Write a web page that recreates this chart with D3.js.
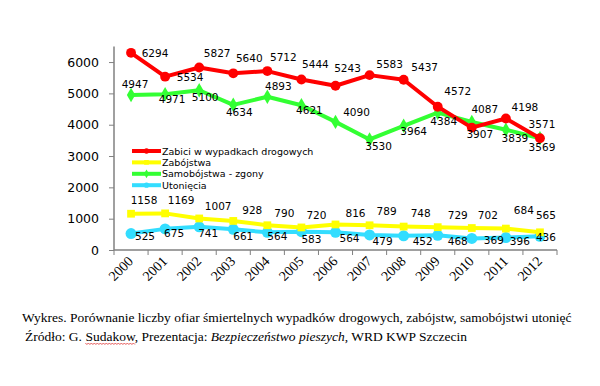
<!DOCTYPE html>
<html>
<head>
<meta charset="utf-8">
<script src="https://cdn.jsdelivr.net/npm/d3@7"></script>
<style>
  body { margin: 0; background: #fff; }
  svg { display: block; }
</style>
</head>
<body>
<svg id="chart" width="600" height="386"></svg>
<script>
"use strict";

// ---- data
const years = ["2000","2001","2002","2003","2004","2005","2006","2007","2008","2009","2010","2011","2012"];
const roadDeaths = [6294,5534,5827,5640,5712,5444,5243,5583,5437,4572,3907,4198,3571];
const homicides  = [1158,1169,1007,928,790,720,816,789,748,729,702,684,565];
const suicides   = [4947,4971,5100,4634,4893,4621,4090,3530,3964,4384,4087,3839,3569];
const drownings  = [525,675,741,661,564,583,564,479,452,468,369,396,436];
const yTicks = [0,1000,2000,3000,4000,5000,6000];
const seriesNames = ["Zabici w wypadkach drogowych","Zabójstwa","Samobójstwa - zgony","Utonięcia"];

// label offsets (dx, dy from point) – layout only
const labelOff = {
  road: [[24,4],[25,4],[18,-10],[16,-11],[16,-10],[14,-11],[12,-14],[20,-7],[21,-9],[20,-12],[8,10],[19,-8],[2,-10]],
  hom:  [[13,-10],[16,-9],[19,-8],[19,-7],[17,-8],[15,-8],[20,-7],[17,-10],[17,-10],[20,-8],[16,-9],[18,-15],[6,-13]],
  sui:  [[4,-7],[7,9],[6,11],[6,11],[11,-7],[8,9],[21,-6],[9,11],[10,9],[6,12],[13,-9],[9,12],[2,13]],
  drown:[[14,6],[9,8],[9,10],[10,11],[10,8],[10,11],[14,10],[13,10],[19,9],[20,10],[22,6],[14,7],[6,5]]
};

const svg = d3.select("#chart");

const x = d3.scaleBand().domain(years).range([114,557]);
const y = d3.scaleLinear().domain([0,6500]).range([250,46.4]);
const cx = d => x(d) + x.bandwidth()/2;

// ---- axes
const yAxis = svg.append("g").attr("transform","translate(114,0)")
  .call(d3.axisLeft(y).tickValues(yTicks).tickFormat(d3.format("d")).tickSize(5).tickPadding(10));
yAxis.select(".domain").attr("d","M0,46.4V250").attr("stroke","#808080").attr("stroke-width",1.5);
yAxis.selectAll(".tick line").attr("stroke","#808080");
yAxis.selectAll("text").style("font-family","DejaVu Sans, Verdana, sans-serif")
  .style("font-size","12.5px").attr("fill","#000");

svg.append("line").attr("x1",114).attr("x2",557).attr("y1",250).attr("y2",250)
  .attr("stroke","#808080").attr("stroke-width",1.5);
svg.selectAll(".xt").data(years.concat(["end"])).enter().append("line")
  .attr("x1",d=>d==="end"?557:x(d)).attr("x2",d=>d==="end"?557:x(d))
  .attr("y1",250).attr("y2",255).attr("stroke","#808080");
svg.selectAll(".xl").data(years).enter().append("text")
  .attr("transform",d=>`translate(${cx(d)+3},${262}) rotate(-45)`)
  .attr("text-anchor","end")
  .style("font-family","Liberation Serif, Times New Roman, serif")
  .style("font-size","14px").text(d=>d);

// ---- series
const series = [
  {key:"road", name:seriesNames[0], values:roadDeaths, color:"#ff0000", shape:"circle", r:4.5},
  {key:"hom",  name:seriesNames[1], values:homicides,  color:"#ffff00", shape:"square", r:4},
  {key:"sui",  name:seriesNames[2], values:suicides,   color:"#33ff33", shape:"diamond", r:4},
  {key:"drown",name:seriesNames[3], values:drownings,  color:"#33ddff", shape:"circle", r:5}
];
const shapeOf = {circle:d3.symbolCircle, square:d3.symbolSquare, diamond:d3.symbolDiamond};

const line = d3.line().x((d,i)=>cx(years[i])).y(d=>y(d));

// draw lower series first, road on top
[series[3],series[1],series[2],series[0]].forEach(s=>{
  const g = svg.append("g");
  g.append("path").attr("d",line(s.values)).attr("fill","none")
    .attr("stroke",s.color).attr("stroke-width",4).attr("stroke-linejoin","round");
  g.selectAll("path.m").data(s.values).enter().append("path").attr("class","m")
    .attr("transform",(d,i)=>`translate(${cx(years[i])},${y(d)})`)
    .attr("d",d3.symbol().type(shapeOf[s.shape]).size(Math.PI*s.r*s.r*1.2))
    .attr("fill",s.color);
});

// ---- data labels
series.forEach(s=>{
  svg.append("g").selectAll("text").data(s.values).enter().append("text")
    .attr("x",(d,i)=>cx(years[i]) + labelOff[s.key][i][0])
    .attr("y",(d,i)=>y(d) + labelOff[s.key][i][1])
    .attr("text-anchor","middle")
    .style("font-family","DejaVu Sans, Verdana, sans-serif")
    .style("font-size","10.5px").text(d=>d);
});

// ---- legend
const leg = svg.append("g").attr("transform","translate(132,151)");
series.forEach((s,i)=>{
  const row = leg.append("g").attr("transform",`translate(0,${i*11.4})`);
  row.append("line").attr("x1",0).attr("x2",29).attr("stroke",s.color).attr("stroke-width",4);
  row.append("path").attr("transform","translate(14.5,0)")
    .attr("d",d3.symbol().type(shapeOf[s.shape]).size(22)).attr("fill",s.color);
  row.append("text").attr("x",30).attr("y",3.5)
    .style("font-family","DejaVu Sans, Verdana, sans-serif")
    .style("font-size","9.5px").text(s.name);
});

// ---- caption
const cap = svg.append("g").style("font-family","Liberation Serif, Times New Roman, serif")
  .style("font-size","13.5px");
cap.append("text").attr("x",22).attr("y",322)
  .text("Wykres. Porównanie liczby ofiar śmiertelnych wypadków drogowych, zabójstw, samobójstwi utonięć");
const l2 = cap.append("text").attr("x",25).attr("y",341);
l2.append("tspan").text("Źródło: G. ");
l2.append("tspan").attr("class","sp").text("Sudakow");
l2.append("tspan").text(", Prezentacja: ");
l2.append("tspan").style("font-style","italic").text("Bezpieczeństwo pieszych");
l2.append("tspan").text(", WRD KWP Szczecin");

// red spell-check squiggle under "Sudakow"
const sp = l2.select(".sp").node();
const st = sp.getStartPositionOfChar(0).x, en = sp.getEndPositionOfChar(sp.getNumberOfChars()-1).x;
let sq = `M${st},343`;
for (let px = st, k = 0; px < en; px += 1.5, k++) sq += `L${px+1.5},${k%2 ? 343 : 344.5}`;
cap.append("path").attr("d",sq).attr("fill","none").attr("stroke","#e03030").attr("stroke-width",0.8);
</script>
</body>
</html>
